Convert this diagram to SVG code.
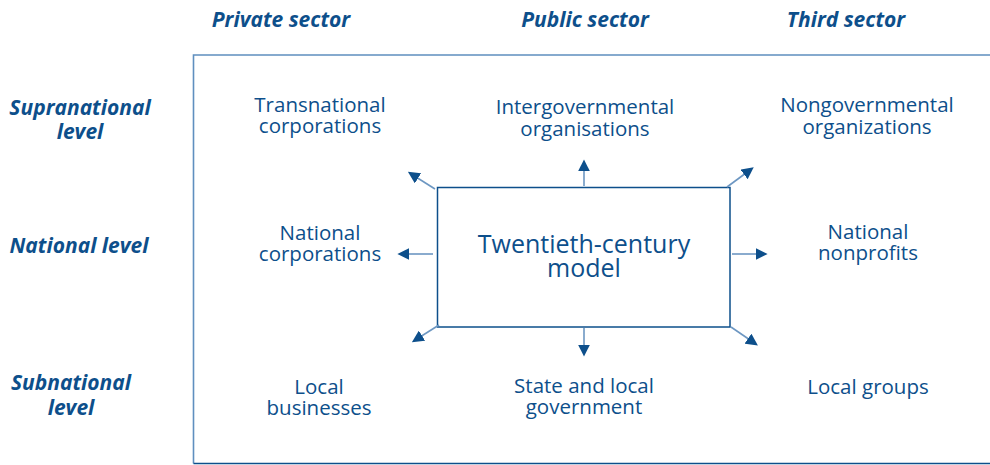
<svg xmlns="http://www.w3.org/2000/svg" width="990" height="465" viewBox="0 0 990 465">
  <style>
    .head { font-family: "Open Sans", "Noto Sans", sans-serif; font-weight: bold; font-style: italic; font-size: 21px; fill: #0d4f8b; text-anchor: middle; }
    .lbl { font-family: "Open Sans", "Noto Sans", sans-serif; font-size: 20.5px; fill: #0d4f8b; text-anchor: middle; }
    .core { font-family: "Open Sans", "Noto Sans", sans-serif; font-size: 25px; fill: #0d4f8b; text-anchor: middle; }
    .shaft { stroke: #6d97c2; stroke-width: 1.6; fill: none; marker-end: url(#head); }
  </style>
  <defs>
    <marker id="head" viewBox="0 0 10 10" refX="2" refY="5" markerWidth="12" markerHeight="12" markerUnits="userSpaceOnUse" orient="auto">
      <path d="M0,0 L10,5 L0,10 Z" fill="#0d4f8b"/>
    </marker>
  </defs>

  <!-- column headings -->
  <g id="col-private"><text class="head" x="281" y="27">Private sector</text></g>
  <g id="col-public"><text class="head" x="585" y="27">Public sector</text></g>
  <g id="col-third"><text class="head" x="846" y="27">Third sector</text></g>

  <!-- row headings -->
  <g id="row-supranational"><text class="head" x="80" y="115">Supranational</text><text class="head" x="80" y="139">level</text></g>
  <g id="row-national"><text class="head" x="79" y="253">National level</text></g>
  <g id="row-subnational"><text class="head" x="71" y="390">Subnational</text><text class="head" x="71" y="415">level</text></g>

  <!-- outer frame (open on the right) -->
  <g id="frame">
    <path d="M990,55 L193.5,55 L193.5,463.5" fill="none" stroke="#5f8fbf" stroke-width="1.6"/>
    <line x1="193.5" y1="463.5" x2="990" y2="463.5" stroke="#0d4f8b" stroke-width="1.6"/>
  </g>

  <!-- cells -->
  <g id="transnational"><text class="lbl" x="320" y="112">Transnational</text><text class="lbl" x="320" y="133">corporations</text></g>
  <g id="intergovernmental"><text class="lbl" x="585" y="114">Intergovernmental</text><text class="lbl" x="585" y="136">organisations</text></g>
  <g id="nongovernmental"><text class="lbl" x="867" y="112">Nongovernmental</text><text class="lbl" x="867" y="134">organizations</text></g>
  <g id="national-corp"><text class="lbl" x="320" y="240">National</text><text class="lbl" x="320" y="261">corporations</text></g>
  <g id="national-nonprofits"><text class="lbl" x="868" y="239">National</text><text class="lbl" x="868" y="260">nonprofits</text></g>
  <g id="local-businesses"><text class="lbl" x="319" y="394">Local</text><text class="lbl" x="319" y="415">businesses</text></g>
  <g id="state-local"><text class="lbl" x="584" y="393">State and local</text><text class="lbl" x="584" y="414">government</text></g>
  <g id="local-groups"><text class="lbl" x="868" y="394">Local groups</text></g>

  <!-- central model -->
  <g id="model">
    <rect x="437.5" y="187.5" width="292.5" height="139.5" fill="#ffffff" stroke="#0d4f8b" stroke-width="1.5"/>
    <text class="core" x="584" y="253">Twentieth-century</text>
    <text class="core" x="584" y="277">model</text>
  </g>

  <!-- connectors radiating from the model -->
  <g id="connectors">
    <line class="shaft" x1="584" y1="186" x2="584" y2="169"/>
    <line class="shaft" x1="584" y1="328" x2="584" y2="347"/>
    <line class="shaft" x1="433" y1="254" x2="407" y2="254"/>
    <line class="shaft" x1="732" y1="254" x2="758" y2="254"/>
    <line class="shaft" x1="435" y1="189" x2="416" y2="177"/>
    <line class="shaft" x1="727" y1="187" x2="746" y2="173"/>
    <line class="shaft" x1="439" y1="325" x2="420" y2="337"/>
    <line class="shaft" x1="731" y1="327" x2="750" y2="340"/>
  </g>
</svg>
